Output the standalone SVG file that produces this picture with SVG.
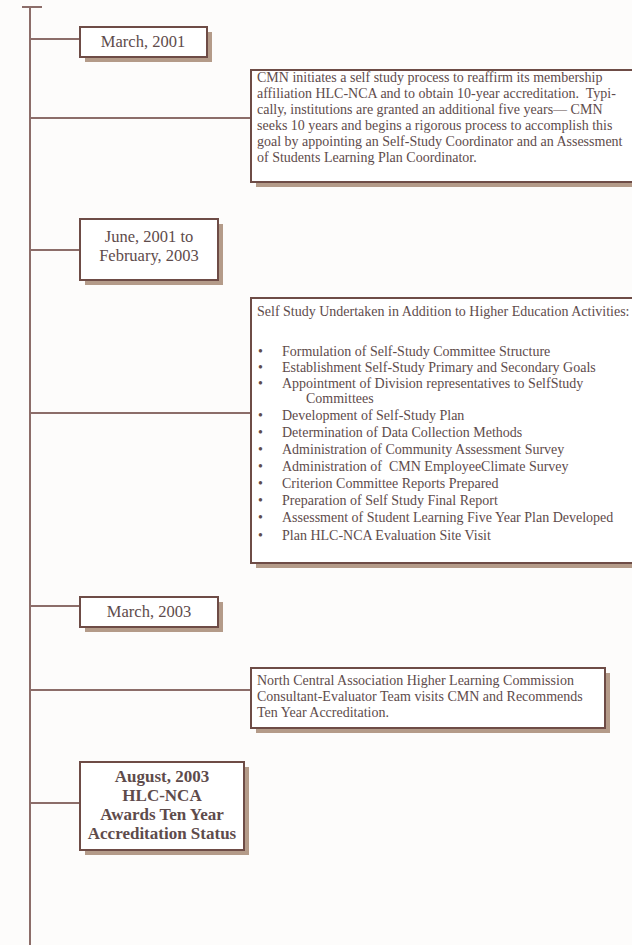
<svg xmlns="http://www.w3.org/2000/svg" width="632" height="945" viewBox="0 0 632 945">
<style>
.bg{fill:#fdfcfb}
.box{fill:#ffffff;stroke:#6e4c46;stroke-width:2}
.sh{fill:#b49b89}
.ln{stroke:#8c6d69;stroke-width:2;fill:none}
text{font-family:"Liberation Serif","Times New Roman",serif;fill:#5e4b4b;white-space:pre}
.d{font-size:16.5px;text-anchor:middle}
.p{font-size:14px}
.b{font-size:17px;font-weight:bold;text-anchor:middle}
</style>
<rect class="bg" x="0" y="0" width="632" height="945"/>
<g id="connectors">
<line class="ln" x1="30" y1="7" x2="30" y2="945"/>
<line class="ln" x1="22" y1="7" x2="42" y2="7"/>
<line class="ln" x1="30" y1="39" x2="80" y2="39"/>
<line class="ln" x1="30" y1="118" x2="251" y2="118"/>
<line class="ln" x1="30" y1="250" x2="80" y2="250"/>
<line class="ln" x1="30" y1="413" x2="251" y2="413"/>
<line class="ln" x1="30" y1="606" x2="80" y2="606"/>
<line class="ln" x1="30" y1="690" x2="251" y2="690"/>
<line class="ln" x1="30" y1="803" x2="80" y2="803"/>
</g>
<g id="march2001">
<rect class="sh" x="85" y="32" width="127" height="30"/>
<rect class="box" x="80" y="27" width="127" height="30"/>
<text class="d" x="143" y="47">March, 2001</text>
</g>
<g id="cmn-initiates">
<rect class="sh" x="256" y="75" width="390" height="112"/>
<rect class="box" x="251" y="70" width="390" height="112"/>
<text class="p" x="257" y="82">CMN initiates a self study process to reaffirm its membership</text>
<text class="p" x="257" y="98">affiliation HLC-NCA and to obtain 10-year accreditation.  Typi-</text>
<text class="p" x="257" y="114">cally, institutions are granted an additional five years— CMN</text>
<text class="p" x="257" y="130">seeks 10 years and begins a rigorous process to accomplish this</text>
<text class="p" x="257" y="146">goal by appointing an Self-Study Coordinator and an Assessment</text>
<text class="p" x="257" y="162">of Students Learning Plan Coordinator.</text>
</g>
<g id="june2001">
<rect class="sh" x="85" y="224" width="138" height="61"/>
<rect class="box" x="80" y="219" width="138" height="61"/>
<text class="d" x="149" y="242">June, 2001 to</text>
<text class="d" x="149" y="261">February, 2003</text>
</g>
<g id="self-study">
<rect class="sh" x="256" y="303" width="390" height="265"/>
<rect class="box" x="251" y="298" width="390" height="265"/>
<text class="p" x="257" y="316">Self Study Undertaken in Addition to Higher Education Activities:</text>
<text class="p" x="258" y="356">•</text><text class="p" x="282" y="356">Formulation of Self-Study Committee Structure</text>
<text class="p" x="258" y="372">•</text><text class="p" x="282" y="372">Establishment Self-Study Primary and Secondary Goals</text>
<text class="p" x="258" y="388">•</text><text class="p" x="282" y="388">Appointment of Division representatives to SelfStudy</text>
<text class="p" x="306" y="403">Committees</text>
<text class="p" x="258" y="420">•</text><text class="p" x="282" y="420">Development of Self-Study Plan</text>
<text class="p" x="258" y="437">•</text><text class="p" x="282" y="437">Determination of Data Collection Methods</text>
<text class="p" x="258" y="454">•</text><text class="p" x="282" y="454">Administration of Community Assessment Survey</text>
<text class="p" x="258" y="471">•</text><text class="p" x="282" y="471">Administration of  CMN EmployeeClimate Survey</text>
<text class="p" x="258" y="488">•</text><text class="p" x="282" y="488">Criterion Committee Reports Prepared</text>
<text class="p" x="258" y="505">•</text><text class="p" x="282" y="505">Preparation of Self Study Final Report</text>
<text class="p" x="258" y="522">•</text><text class="p" x="282" y="522">Assessment of Student Learning Five Year Plan Developed</text>
<text class="p" x="258" y="540">•</text><text class="p" x="282" y="540">Plan HLC-NCA Evaluation Site Visit</text>
</g>
<g id="march2003">
<rect class="sh" x="85" y="602" width="138" height="30"/>
<rect class="box" x="80" y="597" width="138" height="30"/>
<text class="d" x="149" y="617">March, 2003</text>
</g>
<g id="nca-visit">
<rect class="sh" x="256" y="673" width="354" height="60"/>
<rect class="box" x="251" y="668" width="354" height="60"/>
<text class="p" x="257" y="685">North Central Association Higher Learning Commission</text>
<text class="p" x="257" y="701">Consultant-Evaluator Team visits CMN and Recommends</text>
<text class="p" x="257" y="717">Ten Year Accreditation.</text>
</g>
<g id="august2003">
<rect class="sh" x="85" y="767" width="164" height="88"/>
<rect class="box" x="80" y="762" width="164" height="88"/>
<text class="b" x="162" y="782">August, 2003</text>
<text class="b" x="162" y="801">HLC-NCA</text>
<text class="b" x="162" y="820">Awards Ten Year</text>
<text class="b" x="162" y="839">Accreditation Status</text>
</g>
</svg>
